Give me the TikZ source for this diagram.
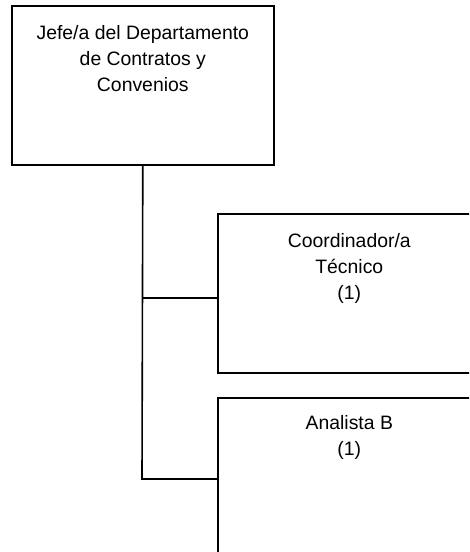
\documentclass[tikz,border=0pt]{standalone}
\usepackage{fontspec}
\setmainfont{Liberation Sans}
\tikzset{
  orgbox/.style={draw, line width=1.6pt, anchor=north west, inner sep=0pt},
  orgtext/.style={anchor=north, inner sep=0pt, align=center,
    font=\fontsize{19.4pt}{26pt}\selectfont},
  conn/.style={line width=1.6pt}
}
\begin{document}
\begin{tikzpicture}[x=1pt,y=-1pt]
\useasboundingbox (0,0) rectangle (469,552);
\clip (0,0) rectangle (469,552);
\node[orgbox, minimum width=262pt, minimum height=159pt] (b1) at (11,5) {};
\node[orgbox, minimum width=263pt, minimum height=159pt] (b2) at (217,213) {};
\node[orgbox, minimum width=263pt, minimum height=164pt] (b3) at (217,397) {};
\node[orgtext] (t1) at ([yshift=-20pt]b1.north) {Jefe/a del Departamento\\de Contratos y\\Convenios};
\node[orgtext] (t2) at ([yshift=-20pt]b2.north) {Coordinador/a\\Técnico\\(1)};
\node[orgtext] (t3) at ([yshift=-18pt]b3.north) {Analista B\\(1)};
\coordinate (j1) at (142,298);
\coordinate (j2) at (142,479);
\draw[conn] (b1.south) -- (j2) -- (j2 -| b3.west);
\draw[conn] (j1) -- (j1 -| b2.west);
\end{tikzpicture}
\end{document}
